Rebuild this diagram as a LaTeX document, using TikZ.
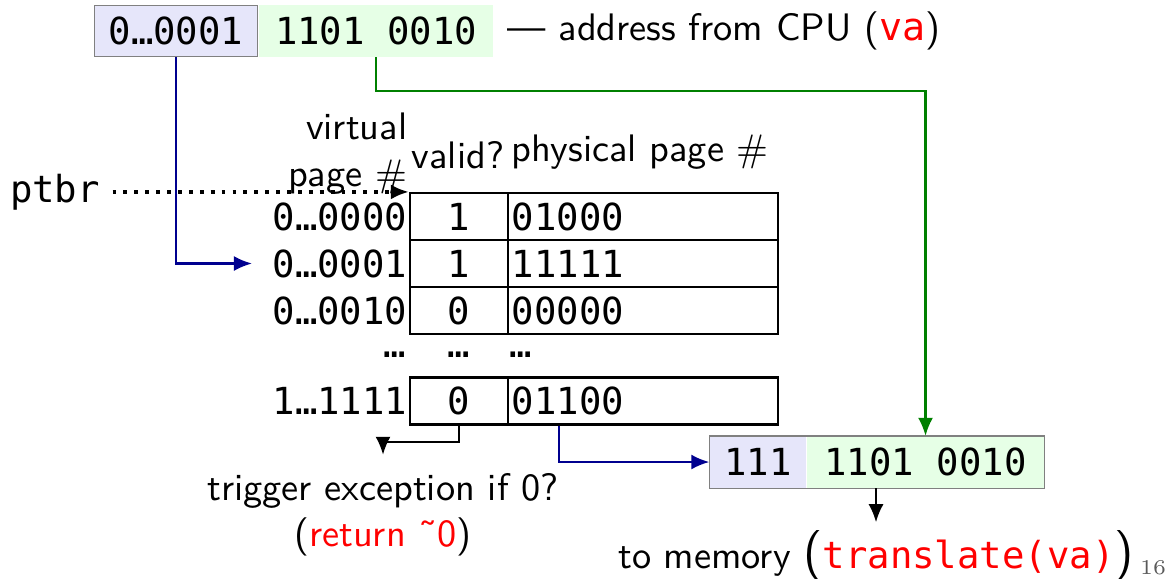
\documentclass[tikz,border=0pt]{standalone}
\usepackage{fontspec}
\setmonofont{DejaVu Sans Mono}
\usepackage{tikz}
\usetikzlibrary{arrows.meta, positioning}

\definecolor{vpnblau}{HTML}{E6E6FA}
\definecolor{offgruen}{HTML}{E6FFE6}
\definecolor{pfeilblau}{HTML}{00008F}
\definecolor{pfeilgruen}{HTML}{008000}

\begin{document}
\begin{tikzpicture}[x=0.01cm, y=0.01cm,
		txt/.style={font=\fontsize{10.9}{13.2}\selectfont\sffamily, inner sep=0pt},
		bits/.style={font=\fontsize{10.6}{13}\selectfont\ttfamily, inner sep=0pt, minimum height=0.51cm},
		zelle/.style={draw, semithick, font=\fontsize{10.6}{13}\selectfont\ttfamily, minimum height=0.47cm, inner sep=0pt},
		pfeil/.style={semithick, -{Latex[length=0.18cm,width=0.15cm]}}]
	\useasboundingbox (0,0) rectangle (1165,-578);
	
	% Adresse von der CPU
	\node[bits, fill=vpnblau, draw=gray, minimum width=1.63cm] (vpn) at (176,-31) {0…0001};
	\node[bits, fill=offgruen, minimum width=2.34cm, right=0pt of vpn] (off) {1101 0010};
	\node[txt, right=0.13cm of off] (cpu) {--- address from CPU (\textcolor{red}{\ttfamily va})};
	
	% Kopfzeile der Tabelle
	\node[txt, align=right, anchor=south east] (kopf) at (408,-195) {virtual\\page $\#$};
	\node[txt] (valid) at (458,-155) {valid?};
	\node[txt] (phys) at (640,-152) {physical page $\#$};
	
	% Seitentabelle
	\foreach \i/\y/\vp/\v/\pp in {0/216.5/0…0000/1/01000, 1/263.5/0…0001/1/11111,
			2/310.5/0…0010/0/00000, 3/401/1…1111/0/01100} {
		\node[bits, anchor=east] (r\i) at (408,-\y) {\vp};
		\node[zelle, minimum width=0.98cm] (v\i) at (459,-\y) {\v};
		\node[zelle, inner xsep=0.04cm, text width=2.62cm, align=left] (p\i) at (643,-\y) {\pp};
	}
	\node[bits] (dr) at (395,-355) {…};
	\node[bits] (dv) at (459,-355) {…};
	\node[bits] (dp) at (521,-355) {…};
	
	% ptbr
	\node[bits] (ptbr) at (55,-192) {ptbr};
	\draw[dotted, line width=1.1pt, -{Latex[length=0.18cm,width=0.15cm]}]
		([xshift=0.12cm]ptbr.east |- v0.north) -- (v0.north west);
	
	% physische Adresse
	\node[bits, fill=vpnblau, minimum width=0.96cm] (ppn) at (758,-462) {111};
	\node[bits, fill=offgruen, minimum width=2.36cm, right=0pt of ppn] (ooff) {1101 0010};
	\draw[gray] (ppn.north west) rectangle (ooff.south east);
	
	% Texte unten
	\node[txt, align=center] (exc) at (383,-515) {trigger exception if 0?\\(\textcolor{red}{return \symbol{"02DC}0})};
	\node[txt] (mem) at (876,-556) {to memory {\Large(}\textcolor{red}{\ttfamily\fontsize{10.6}{13}\selectfont translate(va)}{\Large)}};
	\node[font=\fontsize{6}{7}\selectfont, text=gray!70!black, inner sep=0pt] (seite) at (1153,-568) {16};
	
	% Pfeile
	\draw[pfeil, pfeilblau] (vpn.south) |- ([xshift=-0.2cm]r1.west);
	\draw[pfeil, pfeilgruen] (off.south) -- ++(0,-34) -| (ooff.north);
	\draw[pfeil] (v3.south) -- ++(0,-16) -| ([yshift=0.18cm]exc.north);
	\draw[pfeil, pfeilblau] ([xshift=0.52cm]p3.south west) |- (ppn.west);
	\draw[pfeil] (ooff.south -| mem.north) -- ++(0,-34);
\end{tikzpicture}
\end{document}
